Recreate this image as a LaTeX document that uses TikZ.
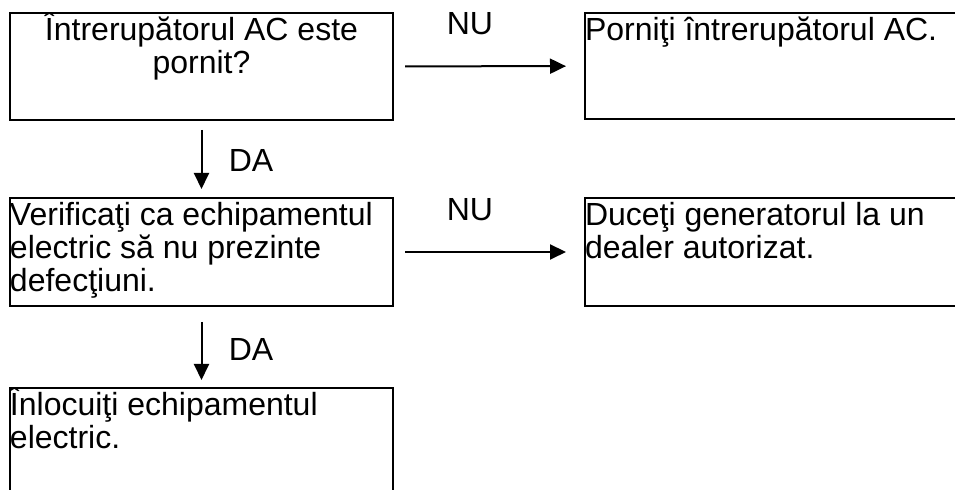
\documentclass[tikz,border=0pt]{standalone}
\usepackage{fontspec}
\setmainfont{Liberation Sans}
\usepackage{tikz}
\usetikzlibrary{arrows.meta, positioning}

\tikzset{
  stepbox/.style={draw, rectangle, line width=1pt, anchor=north west,
    inner sep=0pt, font=\fontsize{16pt}{16.5pt}\selectfont},
  flow/.style={-{Triangle[length=8pt, width=7.5pt]}, line width=1pt},
  answer/.style={inner sep=0pt, font=\fontsize{16pt}{16.5pt}\selectfont}
}
% box text, top aligned: [alignment]{width}{height}{text}
\newcommand{\steptext}[4][\raggedright]{\parbox[c][#3][t]{#2}{#1\rule{0pt}{14pt}#4}}

\begin{document}
\begin{tikzpicture}[x=0.5pt, y=-0.5pt]
  \clip (0,0) rectangle (955,490);
  % question column
  \node[stepbox] (switch) at (9,12)
    {\steptext[\centering]{191.5pt}{53.5pt}{Întrerupătorul AC este\\pornit?}};
  \node[stepbox] (check) at (9,197)
    {\steptext{191.5pt}{54pt}{Verificaţi ca echipamentul electric să nu prezinte defecţiuni.}};
  \node[stepbox] (replace) at (9,387)
    {\steptext{191.5pt}{60pt}{Înlocuiţi echipamentul\\electric.}};
  % answer column
  \node[stepbox] (turnon) at (584,12)
    {\steptext{200pt}{53pt}{Porniţi întrerupătorul AC.}};
  \node[stepbox] (dealer) at (584,197)
    {\steptext{200pt}{54pt}{Duceţi generatorul la un\\dealer autorizat.}};
  % connectors
  \draw[flow, shorten <=5.5pt, shorten >=9pt] (switch) -- (turnon);
  \draw[flow, shorten <=5.5pt, shorten >=9pt] (check) -- (dealer);
  \draw[flow, shorten <=4.5pt, shorten >=4pt] (switch) -- (check);
  \draw[flow, shorten <=7.5pt, shorten >=3.5pt] (check) -- (replace);
  % labels
  \node[answer] (no1) at (470,24) {NU};
  \node[answer] (no2) at (470,210) {NU};
  \node[answer] (yes1) at (251,161) {DA};
  \node[answer] (yes2) at (251,349.5) {DA};
\end{tikzpicture}
\end{document}
